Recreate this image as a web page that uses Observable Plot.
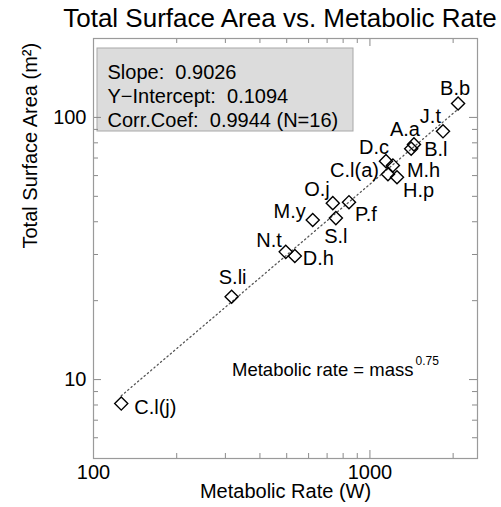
<!DOCTYPE html>
<html><head><meta charset="utf-8">
<script src="https://cdn.jsdelivr.net/npm/d3@7"></script>
<script src="https://cdn.jsdelivr.net/npm/@observablehq/plot@0.6"></script>
<style>
body{margin:0;background:#fff;font-family:"Liberation Sans",Arial,sans-serif;}
#title{width:501px;height:37px;line-height:37px;font-size:26px;color:#000;white-space:nowrap;box-sizing:border-box;padding-left:59px;text-align:center;}
#chart svg{display:block;}
</style></head><body>
<div id="title">Total Surface Area vs. Metabolic Rate</div>
<div id="chart"></div>
<script>
// ---- data ----
const species       = ["B.b","J.t","A.a","B.l","D.c","M.h","C.l(a)","H.p","O.j","P.f","S.l","M.y","N.t","D.h","S.li","C.l(j)"];
const metabolicRate = [2084, 1838, 1443, 1410, 1143, 1211, 1162, 1253, 734, 840, 753, 621, 496, 535, 316, 126];
const surfaceArea   = [113, 88.5, 78.9, 76, 68.1, 65.6, 60.7, 59.1, 47.1, 47.5, 41.3, 40.6, 30.7, 29.6, 20.7, 8.1];
const xMajorTicks = [100, 1000];
const xMinorTicks = [200, 300, 400, 500, 600, 700, 800, 900, 2000];
const yMajorTicks = [10, 100];
const yMinorTicks = [6, 7, 8, 9, 20, 30, 40, 50, 60, 70, 80, 90];
const statsLines = ["Slope:\u00a0\u00a00.9026", "Y\u2212Intercept:\u00a0\u00a00.1094", "Corr.Coef:\u00a0\u00a00.9944 (N=16)"];
const xLabel = "Metabolic Rate (W)";
const yLabel = "Total Surface Area (m\u00b2)";
const noteText = "Metabolic rate = mass";
const noteExp = "0.75";

// label placement (layout only)
const labelPlace = {
  "B.b":["middle",-3,-15], "J.t":["end",-2,-15], "A.a":["middle",-9,-15], "B.l":["start",13,1],
  "D.c":["middle",-12,-14], "M.h":["start",14,5], "C.l(a)":["end",-9,-4], "H.p":["start",6,13],
  "O.j":["end",-3,-14], "P.f":["start",6,12], "S.l":["middle",0,18], "M.y":["end",-7,-8],
  "N.t":["end",-4,-11], "D.h":["start",8,3], "S.li":["middle",1,-19], "C.l(j)":["start",13,4]
};

const pts = species.map((s, i) => ({name: s, x: metabolicRate[i], y: surfaceArea[i]}));

// log-log least squares fit drawn between the data extremes
const lx = pts.map(d => Math.log10(d.x)), ly = pts.map(d => Math.log10(d.y));
const mx = d3.mean(lx), my = d3.mean(ly);
const slope = d3.sum(lx.map((v, i) => (v - mx) * (ly[i] - my))) / d3.sum(lx.map(v => (v - mx) ** 2));
const icpt = my - slope * mx;
const [xmin, xmax] = d3.extent(metabolicRate);
const fit = [xmin, xmax].map(x => ({x, y: 10 ** (icpt + slope * Math.log10(x))}));

const W = 501, H = 470, mL = 93, mR = 24, mT = 1, mB = 49;
const fw = W - mL - mR, fh = H - mT - mB;
const tickCol = "#8a8a8a";

const labelMarks = pts.map(d => Plot.text([d], {x: "x", y: "y", text: "name",
  textAnchor: labelPlace[d.name][0], dx: labelPlace[d.name][1], dy: labelPlace[d.name][2],
  fontSize: 20, fill: "#000"}));

const statsBox = (index, scales, values, dims) => {
  const g = d3.create("svg:g");
  g.append("rect").attr("x", dims.marginLeft + 4).attr("y", dims.marginTop + 10)
    .attr("width", 256).attr("height", 83)
    .attr("fill", "#dcdcdc").attr("stroke", "#a8a8a8").attr("stroke-width", 1);
  return g.node();
};

const chart = Plot.plot({
  width: W, height: H, marginLeft: mL, marginRight: mR, marginTop: mT, marginBottom: mB,
  style: {fontFamily: "Liberation Sans, Arial, sans-serif", background: "#fff", color: "#000"},
  x: {type: "log", domain: [100, 2450]},
  y: {type: "log", domain: [5, 200]},
  marks: [
    statsBox,
    Plot.text([statsLines.join("\n")], {frameAnchor: "top-left", dx: 14, dy: 23, lineAnchor: "top", lineHeight: 1.2, fontSize: 20, fill: "#000"}),
    Plot.line(fit, {x: "x", y: "y", stroke: "#555", strokeWidth: 1.3, strokeDasharray: "1.3,3"}),
    Plot.dot(pts, {x: "x", y: "y", symbol: "diamond2", r: 5.9, stroke: "#000", strokeWidth: 1.4, fill: "none"}),
    ...labelMarks,
    // inward ticks on all four sides
    Plot.tickX(xMajorTicks, {x: d => d, insetTop: fh - 8, stroke: tickCol}),
    Plot.tickX(xMajorTicks, {x: d => d, insetBottom: fh - 8, stroke: tickCol}),
    Plot.tickX(xMinorTicks, {x: d => d, insetTop: fh - 5, stroke: tickCol}),
    Plot.tickX(xMinorTicks, {x: d => d, insetBottom: fh - 5, stroke: tickCol}),
    Plot.tickY(yMajorTicks, {y: d => d, insetRight: fw - 8, stroke: tickCol}),
    Plot.tickY(yMajorTicks, {y: d => d, insetLeft: fw - 8, stroke: tickCol}),
    Plot.tickY(yMinorTicks, {y: d => d, insetRight: fw - 5, stroke: tickCol}),
    Plot.tickY(yMinorTicks, {y: d => d, insetLeft: fw - 5, stroke: tickCol}),
    Plot.axisX(xMajorTicks, {tickSize: 0, tickPadding: 6, fontSize: 20, tickFormat: d => String(d), label: null}),
    Plot.axisY(yMajorTicks, {tickSize: 0, tickPadding: 7, fontSize: 20, tickFormat: d => String(d), label: null}),
    Plot.frame({stroke: "#9a9a9a", strokeWidth: 1.2}),
    Plot.text([xLabel], {frameAnchor: "bottom", dy: 39, fontSize: 20, fill: "#000"}),
    Plot.text([yLabel], {frameAnchor: "left", dx: -63, rotate: -90, fontSize: 20, fill: "#000"}),
    Plot.text([noteText], {frameAnchor: "bottom-right", textAnchor: "end", dx: -64, dy: -83, fontSize: 18.5, fill: "#000"}),
    Plot.text([noteExp], {frameAnchor: "bottom-right", textAnchor: "start", dx: -62, dy: -94, fontSize: 12, fill: "#000"})
  ]
});
document.getElementById("chart").appendChild(chart);
</script>
</body></html>
